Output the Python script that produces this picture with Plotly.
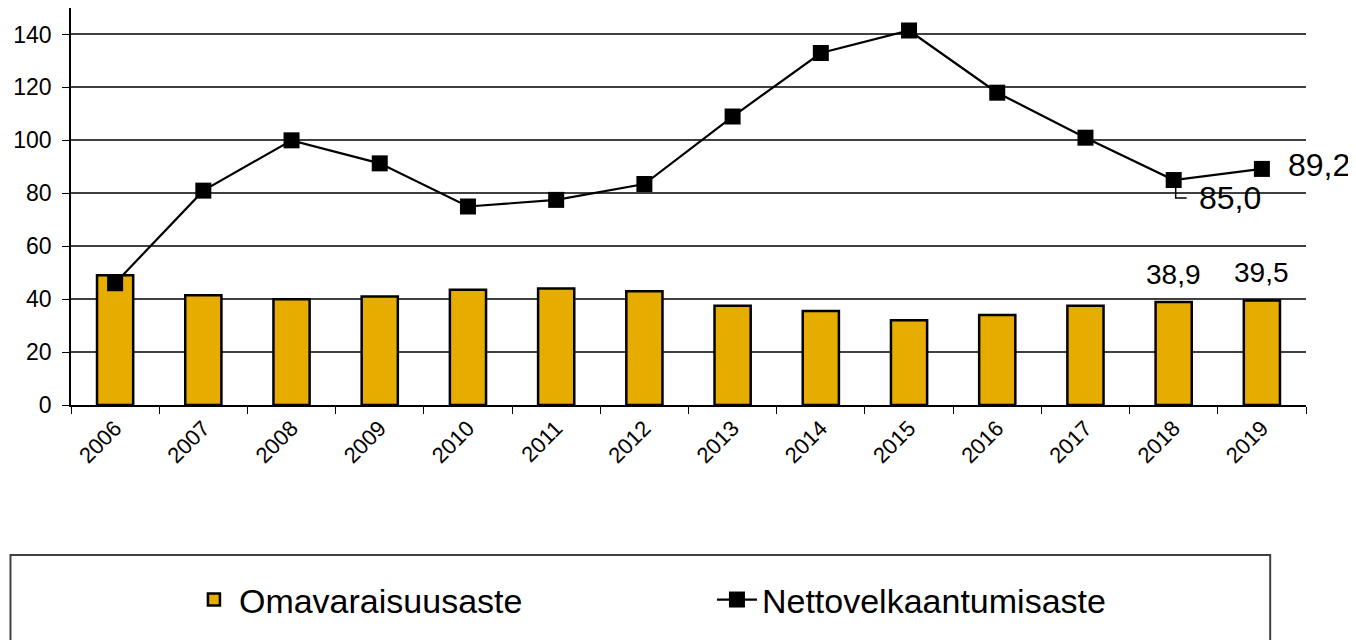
import plotly.graph_objects as go

years = ["2006", "2007", "2008", "2009", "2010", "2011", "2012",
         "2013", "2014", "2015", "2016", "2017", "2018", "2019"]
omavaraisuusaste = [49.0, 41.5, 40.0, 41.0, 43.5, 44.0, 43.0,
                    37.5, 35.5, 32.0, 34.0, 37.5, 38.9, 39.5]
nettovelkaantumisaste = [46.0, 81.0, 100.0, 91.3, 75.0, 77.5, 83.5,
                         109.0, 133.0, 141.5, 118.0, 101.0, 85.0, 89.2]

gold = "#E6AD00"
font = "Liberation Sans, Arial, sans-serif"


def fi(v):
    # suomalainen desimaalipilkku
    return f"{v:.1f}".replace(".", ",")


fig = go.Figure()
fig.add_trace(go.Bar(x=years, y=omavaraisuusaste, name="Omavaraisuusaste",
                     width=0.41, marker=dict(color=gold, line=dict(color="black", width=2.5))))
fig.add_trace(go.Scatter(x=years, y=nettovelkaantumisaste, name="Nettovelkaantumisaste",
                         mode="lines+markers", line=dict(color="black", width=2.2),
                         marker=dict(symbol="square", size=16, color="black")))

# kategoria-akselilla annotaatiot sijoitetaan indeksin mukaan
i18, i19 = len(years) - 2, len(years) - 1
annotations = [
    dict(x=i19, y=nettovelkaantumisaste[i19], text=fi(nettovelkaantumisaste[i19]),
         showarrow=False, xshift=57, yshift=4, font=dict(size=32, color="black")),
    dict(x=i18, y=nettovelkaantumisaste[i18], text=fi(nettovelkaantumisaste[i18]),
         showarrow=False, xshift=56, yshift=-18, font=dict(size=32, color="black")),
]
for i in (i18, i19):
    annotations.append(dict(x=i, y=omavaraisuusaste[i], text=fi(omavaraisuusaste[i]),
                            showarrow=False, yshift=28, font=dict(size=28, color="black")))

fig.update_layout(
    width=1356, height=640,
    margin=dict(l=63, r=58, t=0, b=243, autoexpand=False),
    paper_bgcolor="white", plot_bgcolor="white",
    font=dict(family=font, color="black", size=22),
    annotations=annotations,
    showlegend=True,
    legend=dict(orientation="h", x=0.0955, y=-0.491, xanchor="left", yanchor="middle",
                entrywidth=468, entrywidthmode="pixels", font=dict(size=34),
                bgcolor="rgba(0,0,0,0)", itemwidth=40),
    shapes=[
        # selitelaatikko
        dict(type="rect", xref="paper", yref="paper", x0=-0.049, x1=0.971, y0=-0.378, y1=-0.62,
             line=dict(color="#404040", width=2)),
        # 85,0 -johdinviiva
        dict(type="path", xref="x", yref="y", xsizemode="pixel", ysizemode="pixel",
             xanchor=i18, yanchor=nettovelkaantumisaste[i18],
             path="M 2 -6 L 2 -18 L 13 -18", line=dict(color="black", width=1.5)),
    ],
)
fig.update_xaxes(type="category", range=[-0.5, len(years) - 0.5], showline=True,
                 linecolor="black", linewidth=1.5,
                 ticks="outside", tickson="boundaries", ticklen=7, tickcolor="black",
                 tickangle=-45, showgrid=False, tickfont=dict(size=22))
fig.update_yaxes(range=[0, 150], dtick=20, showline=True, linecolor="black", linewidth=1.5,
                 ticks="outside", ticklen=7, tickcolor="black", ticklabelstandoff=6,
                 showgrid=True, gridcolor="#404040", gridwidth=1.5, zeroline=False,
                 tickfont=dict(size=23))

fig.write_html("out.html")
